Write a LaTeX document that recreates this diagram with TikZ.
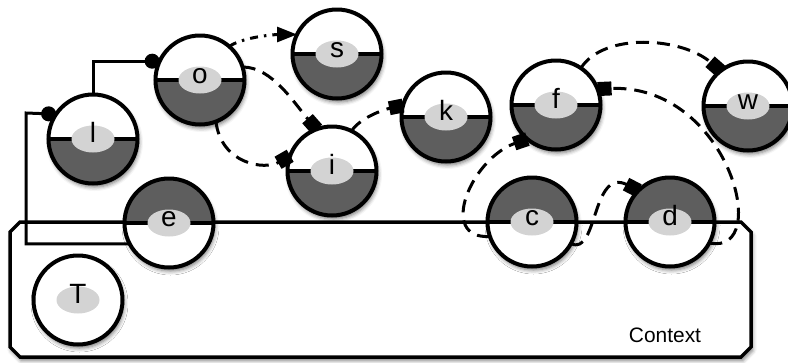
\documentclass[tikz,border=0pt]{standalone}
\usepackage{fontspec}
\setmainfont{Liberation Sans}
\usetikzlibrary{arrows.meta,shadows.blur}
\definecolor{darkfill}{HTML}{5E5E5E}
\definecolor{lightfill}{HTML}{D3D3D3}
\begin{document}
\begin{tikzpicture}[x=1bp,y=-1bp,
  shd/.style={blur shadow={shadow xshift=1.5bp, shadow yshift=-3.5bp, shadow blur radius=4bp, shadow opacity=55}},
  ballbase/.style={circle, minimum size=89bp, inner sep=0pt, outer sep=0pt, line width=4bp, draw=black, fill=white, shd,
    font=\fontsize{28}{30}\selectfont, text height=0.7em, text depth=0pt},
  lowdark/.style={ballbase, path picture={
     \fill[darkfill] (path picture bounding box.west) rectangle (path picture bounding box.south east);
     \draw[line width=4bp] (path picture bounding box.west) -- (path picture bounding box.east);
     \fill[lightfill] (path picture bounding box.center) ellipse [x radius=21.5bp, y radius=13.5bp];}},
  updark/.style={ballbase, path picture={
     \fill[darkfill] (path picture bounding box.west) rectangle (path picture bounding box.north east);
     \draw[line width=4bp] (path picture bounding box.west) -- (path picture bounding box.east);
     \fill[lightfill] (path picture bounding box.center) ellipse [x radius=21.5bp, y radius=13.5bp];}},
  plainball/.style={ballbase, path picture={
     \fill[lightfill] (path picture bounding box.center) ellipse [x radius=21.5bp, y radius=13.5bp];}},
  ctxline/.style={draw=black, line width=3.5bp, fill=white, line join=miter, shd},
  solidc/.style={line width=3bp, -{Circle[length=15bp, fill=black]}},
  dashc/.style={line width=3bp, dash pattern=on 13bp off 8bp, -{Square[length=14bp,width=14bp, fill=black]}},
  dashdotc/.style={line width=3bp, dash pattern=on 8bp off 6bp on 2.5bp off 6bp, -{Triangle[length=20bp,width=15bp, fill=black]}}
]
\useasboundingbox (0,0) rectangle (788,362);
\coordinate (b1) at (20,222);
\coordinate (b2) at (741,222);
\coordinate (b3) at (751,232);
\coordinate (b4) at (751,347);
\coordinate (b5) at (741,357);
\coordinate (b6) at (20,357);
\coordinate (b7) at (10,347);
\coordinate (b8) at (10,232);
\path[ctxline] (b1) -- (b2) -- (b3) -- (b4) -- (b5) -- (b6) -- (b7) -- (b8) -- cycle;
\node[font=\fontsize{21}{24}\selectfont] (ctxlabel) at (665,335) {Context};

\node[lowdark] (l) at (93,139) {l};
\node[lowdark] (o) at (200,80) {o};
\node[lowdark] (s) at (337,54) {s};
\node[lowdark] (i) at (332,171) {i};
\node[lowdark] (k) at (446,117) {k};
\node[lowdark] (f) at (556,105) {f};
\node[lowdark] (w) at (748,106) {w};
\node[updark] (e) at (169,223) {e};
\node[updark] (c) at (532,222) {c};
\node[updark] (d) at (670,222) {d};
\node[plainball] (T) at (78,300) {T};

\coordinate (bend) at (26,113);
\draw[solidc] (l.north) |- (o.155);
\draw[solidc] (e.208) -| (bend) -- (l.146);

\draw[dashdotc] (o.49) .. controls +(15,-10) and +(-20,0) .. (s.154);
\draw[dashc] (o.17) .. controls +(30,0) and +(-22,-25) .. (i.110);
\draw[dashc] (o.291) .. controls +(5,42) and +(-26,15) .. (i.160);
\draw[dashc] (i.64) .. controls +(10,-15) and +(-15,3) .. (k.165);
\draw[dashc] (f.56) .. controls +(23,-36) and +(-39,-34) .. (w.128);
\draw[dashc] (d.332) .. controls +(64,14) and +(131,-6) .. (f.21);
\draw[dashc] (c.199) .. controls +(-53,3) and +(-56,19) .. (f.230);
\draw[dashc] (c.331) .. controls +(27,13) and +(-47,-24) .. (d.135);
\end{tikzpicture}
\end{document}
